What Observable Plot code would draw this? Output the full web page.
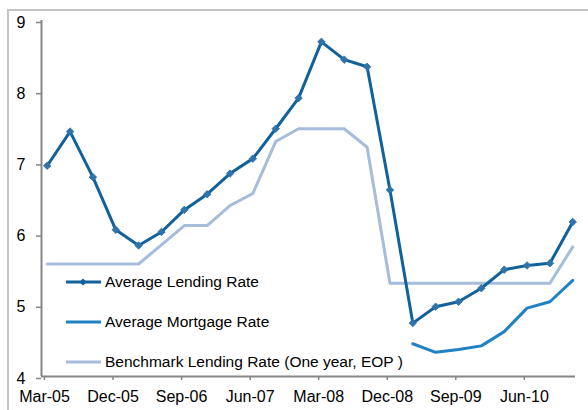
<!DOCTYPE html>
<html>
<head>
<meta charset="utf-8">
<script src="https://cdn.jsdelivr.net/npm/d3@7"></script>
<script src="https://cdn.jsdelivr.net/npm/@observablehq/plot@0.6"></script>
<style>
  html, body { margin: 0; padding: 0; background: #fff; }
  #wrap { position: relative; width: 588px; height: 410px; overflow: hidden; font-family: "Liberation Sans", Arial, sans-serif; }
  #frame { position: absolute; left: 7px; top: 9px; width: 600px; height: 420px; border-top: 2px solid #c4c4c4; border-left: 2px solid #c4c4c4; }
  #chart { position: absolute; left: 0; top: 0; }
  .leg { position: absolute; left: 65px; display: flex; align-items: center; font-size: 15.5px; color: #000; white-space: pre; }
  .leg svg { margin-right: 3px; }
</style>
</head>
<body>
<div id="wrap">
  <div id="frame"></div>
  <div id="chart"></div>
  <div id="legend"></div>
</div>
<script>
const quarters = ["Mar-05","Jun-05","Sep-05","Dec-05","Mar-06","Jun-06","Sep-06","Dec-06",
  "Mar-07","Jun-07","Sep-07","Dec-07","Mar-08","Jun-08","Sep-08","Dec-08",
  "Mar-09","Jun-09","Sep-09","Dec-09","Mar-10","Jun-10","Sep-10","Dec-10"];
const avgLending = [6.96,7.44,6.80,6.06,5.84,6.03,6.34,6.56,6.85,7.06,7.48,7.91,
  8.70,8.45,8.35,6.62,4.75,4.98,5.05,5.24,5.50,5.56,5.59,6.17];
const avgMortgage = [null,null,null,null,null,null,null,null,null,null,null,null,
  null,null,null,null,4.46,4.34,4.38,4.43,4.63,4.96,5.05,5.35];
const benchmark = [5.58,5.58,5.58,5.58,5.58,5.85,6.12,6.12,6.40,6.57,7.30,7.48,
  7.48,7.48,7.22,5.31,5.31,5.31,5.31,5.31,5.31,5.31,5.31,5.82];
const tickLabels = ["Mar-05","Dec-05","Sep-06","Jun-07","Mar-08","Dec-08","Sep-09","Jun-10"];
const yTicks = [4,5,6,7,8,9];
const seriesNames = ["Average Lending Rate","Average Mortgage Rate","Benchmark Lending Rate (One year, EOP )"];
const colors = ["#11619a","#2182c2","#a6bcdb"];

const rows = quarters.map((q, i) => ({i, q, lend: avgLending[i], mort: avgMortgage[i], bench: benchmark[i]}));
const tickPos = tickLabels.map(t => quarters.indexOf(t) - 0.25);
const labelAt = new Map(tickPos.map((p, k) => [p, tickLabels[k]]));

const plot = Plot.plot({
  width: 588,
  height: 410,
  marginLeft: 41,
  marginRight: 13,
  marginTop: 20,
  marginBottom: 34,
  style: {fontFamily: "'Liberation Sans', Arial, sans-serif", background: "transparent", overflow: "visible"},
  x: {domain: [-0.25, 23.12], axis: null},
  y: {domain: [4, 9], axis: null},
  marks: [
    Plot.line(rows, {x: "i", y: "bench", stroke: colors[2], strokeWidth: 3}),
    Plot.line(rows.filter(d => d.mort != null), {x: "i", y: "mort", stroke: colors[1], strokeWidth: 3}),
    Plot.line(rows, {x: "i", y: "lend", stroke: colors[0], strokeWidth: 3}),
    Plot.dot(rows, {x: "i", y: "lend", symbol: "diamond2", r: 3.4, fill: "#2f73a8", stroke: "#2f73a8", strokeWidth: 0.8}),
    Plot.axisY({ticks: yTicks, label: null, tickSize: 5, tickPadding: 11, fontSize: 16, stroke: "#868686", fill: "#000", strokeWidth: 1.5, dy: 2, tickFormat: d => d}),
    Plot.axisX({ticks: tickPos, label: null, tickSize: 4, tickPadding: 10, fontSize: 16, stroke: "#868686", fill: "#000", strokeWidth: 1.5, dx: 3, tickFormat: d => labelAt.get(d)}),
    Plot.ruleX([-0.25], {stroke: "#868686", strokeWidth: 2}),
    Plot.ruleY([4], {stroke: "#868686", strokeWidth: 2})
  ]
});
document.getElementById("chart").appendChild(plot);

const legendY = [282, 322, 362];
const legend = document.getElementById("legend");
seriesNames.forEach((name, k) => {
  const div = document.createElement("div");
  div.className = "leg";
  div.style.top = (legendY[k] - 10) + "px";
  div.style.height = "20px";
  const marker = k === 0 ? `<path d="M18 13.5 L21.5 10 L18 6.5 L14.5 10 Z" fill="${colors[0]}"/>` : "";
  div.innerHTML = `<svg width="37" height="20"><line x1="1" y1="10" x2="36" y2="10" stroke="${colors[k]}" stroke-width="3"/>${marker}</svg><span>${name}</span>`;
  legend.appendChild(div);
});
</script>
</body>
</html>
